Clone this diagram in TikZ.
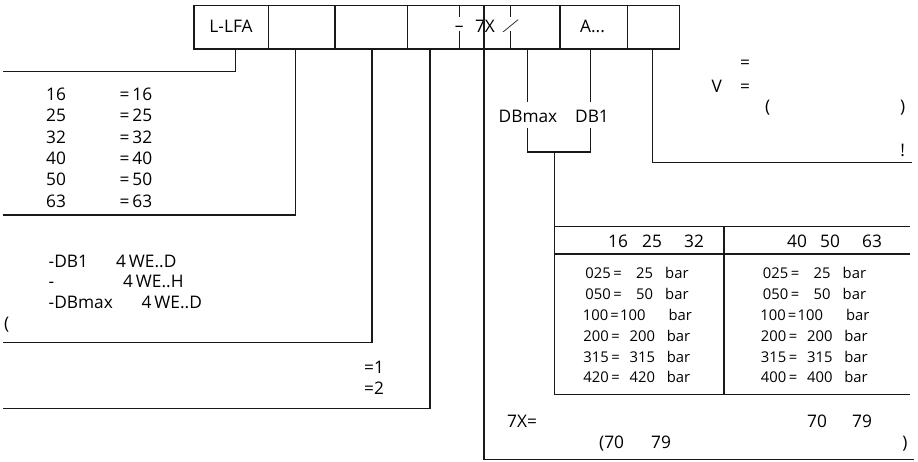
\documentclass[tikz,border=0pt]{standalone}
\usepackage{fontspec}
\setmainfont{Open Sans}
\begin{document}
\begin{tikzpicture}[x=1pt,y=-1pt,
  ln/.style={line width=1.25pt, draw=black!90},
  t/.style={inner sep=0pt, font=\fontsize{17.3}{20}\selectfont, text height=12.3pt, text depth=0pt},
  ts/.style={inner sep=0pt, font=\fontsize{14.8}{17}\selectfont, text height=10.6pt, text depth=0pt},
  box/.style={draw=black!90, line width=1.25pt, inner sep=0pt, minimum height=43.6pt, anchor=north west}]
\useasboundingbox (0,0) rectangle (918,462);

% ---- top row of boxes
\node[box, minimum width=74.4pt] (b1) at (193.3,4.7) {};
\node[t] (lfa) at (231,26) {L-LFA};
\node[box, minimum width=66.6pt] (b2) at (267.7,4.7) {};
\node[box, minimum width=72.4pt] (b3) at (334.3,4.7) {};
\node[box, minimum width=152.6pt] (b4) at (406.7,4.7) {};
\node[box, minimum width=67.4pt] (b5) at (559.3,4.7) {};
\node[t] (adots) at (592.5,26) {A...};
\node[box, minimum width=52.3pt] (b6) at (626.7,4.7) {};

% broken separators inside the 7X box
\draw[ln] (459.3,4.7) -- (459.3,16.7) (459.3,30.7) -- (459.3,48.3);
\draw[ln] (510.7,4.7) -- (510.7,16.7) (510.7,30.7) -- (510.7,48.3);
\node[t] (dash) at (459.3,25) {–};
\node[t] (sevx) at (485,26) {7X};
\node[t, xslant=0.6] (slash) at (510.7,26) {⁄};

% ---- connectors to the left
\coordinate (p1) at (235.7,48.3); \coordinate (q1) at (3,71.7);
\coordinate (p2) at (295.7,48.3); \coordinate (q2) at (3,215);
\coordinate (p3) at (372,48.3);   \coordinate (q3) at (3,342.7);
\coordinate (p4) at (430,48.3);   \coordinate (q4) at (3,408.3);
\draw[ln] (p1) |- (q1);
\draw[ln] (p2) |- (q2);
\draw[ln] (p3) |- (q3);
\draw[ln] (p4) |- (q4);

% ---- long line through the 7X box
\coordinate (p5) at (484,4.7); \coordinate (q5) at (914,459.5);
\draw[ln] (p5) |- (q5);

% ---- DBmax / DB1 bracket
\node[t] (dbmax) at (528,116.7) {DBmax};
\node[t] (db1) at (592,116.7) {DB1};
\coordinate (u1) at (527.3,48.3); \coordinate (u2) at (590.3,48.3);
\coordinate (l1) at (527.3,152);  \coordinate (l2) at (590.3,152);
\draw[ln] (527.3,101.7) -- (u1) -- (u2) -- (590.3,101.7);
\draw[ln] (527.3,128) -- (l1) -- (l2) -- (590.3,128);
\coordinate (m1) at (554.3,152);
\coordinate (tl) at (554.3,226.7);

% ---- connector from last box to the right
\coordinate (p6) at (652.5,48.3); \coordinate (q6) at (912,162.3);
\draw[ln] (p6) |- (q6);
\node[t] (eq1) at (745,62.5) {=};
\node[t] (vv) at (716.7,86) {V};
\node[t] (eq2) at (745,86) {=};
\node[t] (lp) at (767.7,106.7) {(};
\node[t] (rp) at (902.7,106.7) {)};
\node[t] (excl) at (902.7,150) {!};

% ---- table
\coordinate (tr) at (910,226.7);
\coordinate (hl) at (554.3,254); \coordinate (hr) at (910,254);
\coordinate (bl) at (554.3,394.5); \coordinate (br) at (910,394.5);
\coordinate (mt) at (724,226.7); \coordinate (mb) at (724,394.5);
\draw[ln] (m1) -- (bl);
\draw[ln] (tl) -- (tr);
\draw[ln] (hl) -- (hr);
\draw[ln] (bl) -- (br);
\draw[ln] (mt) -- (mb);

\node[t] (h16) at (618,241) {16};
\node[t] (h25) at (652,241) {25};
\node[t] (h32) at (694,241) {32};
\node[t] (h40) at (797,241) {40};
\node[t] (h50) at (830,241) {50};
\node[t] (h63) at (872,241) {63};

\foreach \i/\a/\ae/\eqx/\v/\vx/\bx/\ra/\rv in {
  0/025/611/617.5/25/636/665/025/25,
  1/050/611/617.5/50/636/665/050/50,
  2/100/608.5/614.5/100/620/668.3/100/100,
  3/200/609/615.5/200/629.5/666.7/200/200,
  4/315/609/615.5/315/629.5/666.7/315/315,
  5/420/609/615.5/420/629.5/666.7/400/400}{
  \pgfmathsetmacro{\yy}{273.5+20.8*\i}
  \node[ts, anchor=east] (la\i) at (\ae,\yy) {\a};
  \node[ts] (le\i) at (\eqx,\yy) {=};
  \node[ts, anchor=west] (lv\i) at (\vx,\yy) {\v};
  \node[ts, anchor=west] (lb\i) at (\bx,\yy) {bar};
  \node[ts, anchor=east] (ra\i) at (\ae+177.5,\yy) {\ra};
  \node[ts] (re\i) at (\eqx+177.5,\yy) {=};
  \node[ts, anchor=west] (rv\i) at (\vx+177.5,\yy) {\rv};
  \node[ts, anchor=west] (rb\i) at (\bx+177.5,\yy) {bar};
}

% ---- bottom notes
\node[t, anchor=west] (sx) at (507,421.5) {7X=};
\node[t, anchor=west] (s70) at (807,421.5) {70};
\node[t, anchor=west] (s79) at (852,421.5) {79};
\node[t, anchor=west] (o70) at (599,442) {(70};
\node[t, anchor=west] (o79) at (651,442) {79};
\node[t] (orp) at (905,442) {)};

% ---- left list of sizes
\foreach \i/\n in {0/16,1/25,2/32,3/40,4/50,5/63}{
  \pgfmathsetmacro{\yy}{94.5+21.3*\i}
  \node[t, anchor=west] (n\i) at (46,\yy) {\n};
  \node[t, anchor=west] (m\i) at (119.5,\yy) {=\,\n};
}

% ---- left notes
\node[t, anchor=west] (d1) at (48.5,261) {-DB1};
\node[t, anchor=west] (d1b) at (116,261) {4\,WE..D};
\node[t, anchor=west] (d2) at (48.5,281.7) {-};
\node[t, anchor=west] (d2b) at (123,281.7) {4\,WE..H};
\node[t, anchor=west] (d3) at (48.5,302.3) {-DBmax};
\node[t, anchor=west] (d3b) at (141.5,302.3) {4\,WE..D};
\node[t, anchor=west] (d4) at (4,323) {(};
\node[t, anchor=west] (e1) at (364,367.3) {=1};
\node[t, anchor=west] (e2) at (364,388.3) {=2};
\end{tikzpicture}
\end{document}
